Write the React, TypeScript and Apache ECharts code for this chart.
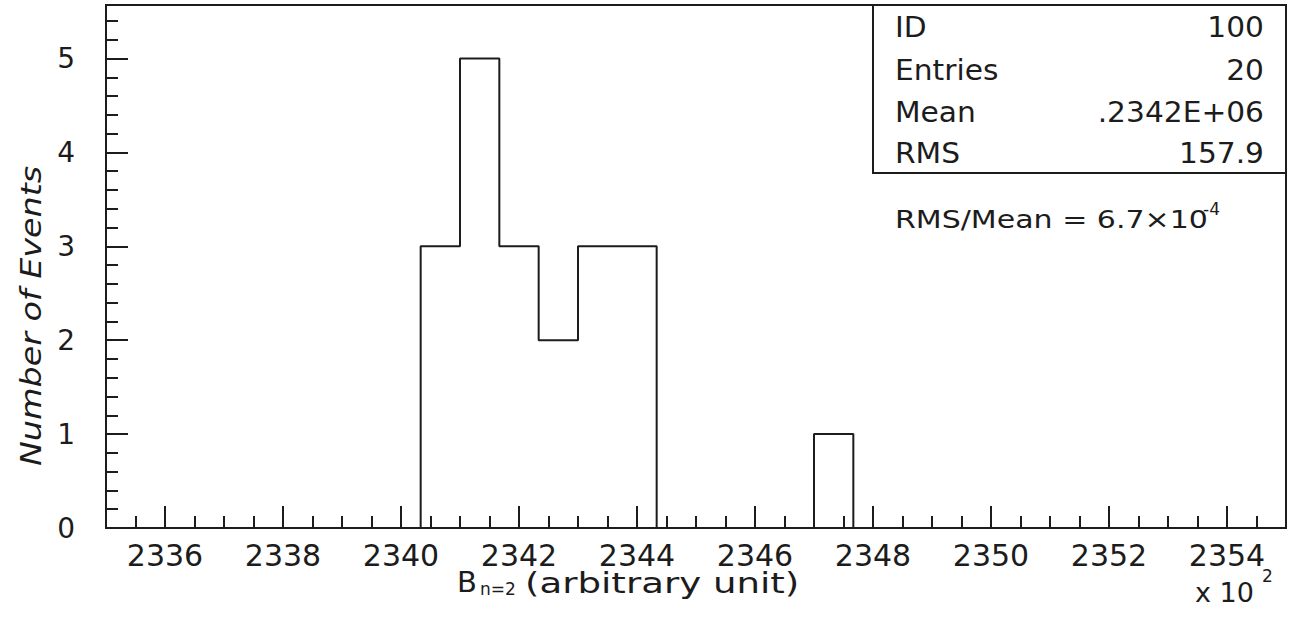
import React, { useEffect, useRef } from "react";
import * as echarts from "echarts";

// Histogram definition (x in units of 10^2)
const xMin = 2335;
const xMax = 2355;
const nBins = 30;
const binCounts = [
  0, 0, 0, 0, 0, 0, 0, 0, 3, 5,
  3, 2, 3, 3, 0, 0, 0, 0, 1, 0,
  0, 0, 0, 0, 0, 0, 0, 0, 0, 0,
];
const yMax = 5.57;

const statLabels = ["ID", "Entries", "Mean", "RMS"];
const statValues = ["100", "20", ".2342E+06", "157.9"];

const yTitle = "Number of Events";
const xTitleMain = "B";
const xTitleSub = "n=2";
const xTitleRest = "(arbitrary unit)";
const scaleText = "x 10";
const scaleExp = "2";
const noteText = "RMS/Mean = 6.7×10";
const noteExp = "-4";

const INK = "#1c1c1c";
const FONT = "'DejaVu Sans', 'Noto Sans', sans-serif";

export default function App() {
  const ref = useRef<HTMLDivElement>(null);

  useEffect(() => {
    if (!ref.current) return;
    const chart = echarts.init(ref.current, undefined, { renderer: "svg" });
    const w = (xMax - xMin) / nBins;
    const stepData: [number, number][] = binCounts.map((c, k) => [xMin + k * w, c]);
    stepData.push([xMax, 0]);

    const rowY = [27, 70, 112, 153];
    const txt = (extra: any) => ({ type: "text", z: 100, ...extra });
    const mid = (text: string, font: string, align = "left") => ({
      text,
      fill: INK,
      font,
      align,
      verticalAlign: "middle",
    });

    const option: any = {
      animation: false,
      backgroundColor: "#ffffff",
      grid: {
        left: 106,
        right: 4,
        top: 5,
        bottom: 90,
        show: true,
        borderColor: INK,
        borderWidth: 2,
        backgroundColor: "transparent",
      },
      xAxis: {
        type: "value",
        min: xMin,
        max: xMax,
        splitNumber: 10,
        axisLine: { show: true, lineStyle: { color: INK, width: 2 } },
        axisTick: { show: true, inside: true, length: 22, lineStyle: { color: INK, width: 2 } },
        minorTick: { show: true, splitNumber: 4, length: 12, lineStyle: { color: INK, width: 2 } },
        splitLine: { show: false },
        minorSplitLine: { show: false },
        axisLabel: {
          show: true,
          showMinLabel: false,
          showMaxLabel: false,
          margin: 12,
          color: INK,
          fontFamily: FONT,
          fontSize: 30,
          formatter: (v: number) => String(Math.round(v)),
        },
      },
      yAxis: {
        type: "value",
        min: 0,
        max: yMax,
        splitNumber: 5,
        axisLine: { show: true, lineStyle: { color: INK, width: 2 } },
        axisTick: { show: true, inside: true, length: 22, lineStyle: { color: INK, width: 2 } },
        minorTick: { show: true, splitNumber: 5, length: 12, lineStyle: { color: INK, width: 2 } },
        splitLine: { show: false },
        minorSplitLine: { show: false },
        axisLabel: {
          show: true,
          showMaxLabel: false,
          margin: 31,
          color: INK,
          fontFamily: FONT,
          fontSize: 28,
          formatter: (v: number) => String(Math.round(v)),
        },
      },
      series: [
        {
          type: "line",
          step: "end",
          data: stepData,
          symbol: "none",
          lineStyle: { color: INK, width: 2 },
          z: 5,
        },
      ],
      graphic: [
        {
          type: "rect",
          z: 90,
          shape: { x: 873, y: 5, width: 413, height: 168 },
          style: { fill: "#ffffff", stroke: INK, lineWidth: 2 },
        },
        ...statLabels.map((s, i) =>
          txt({ x: 895, y: rowY[i], scaleX: 1.06, style: mid(s, `28px ${FONT}`) })
        ),
        ...statValues.map((s, i) =>
          txt({ x: 1264, y: rowY[i], scaleX: 1.06, style: mid(s, `28px ${FONT}`, "right") })
        ),
        txt({ x: 895, y: 219, scaleX: 1.2, style: mid(noteText, `25px ${FONT}`) }),
        txt({ x: 1203, y: 209, style: mid(noteExp, `17px ${FONT}`) }),
        txt({ x: 457, y: 582, style: mid(xTitleMain, `29px ${FONT}`) }),
        txt({ x: 480, y: 589, style: mid(xTitleSub, `17px ${FONT}`) }),
        txt({ x: 525, y: 583, scaleX: 1.28, style: mid(xTitleRest, `29px ${FONT}`) }),
        txt({ x: 1195, y: 592, style: mid(scaleText, `27px ${FONT}`) }),
        txt({ x: 1262, y: 576, style: mid(scaleExp, `17px ${FONT}`) }),
        txt({
          x: 31,
          y: 316,
          rotation: Math.PI / 2,
          scaleX: 1.15,
          style: mid(yTitle, `italic 29px ${FONT}`, "center"),
        }),
      ],
    };
    chart.setOption(option);
    return () => chart.dispose();
  }, []);

  return (
    <div
      ref={ref}
      style={{ position: "fixed", left: 0, top: 0, width: 1290, height: 618, background: "#fff" }}
    />
  );
}
